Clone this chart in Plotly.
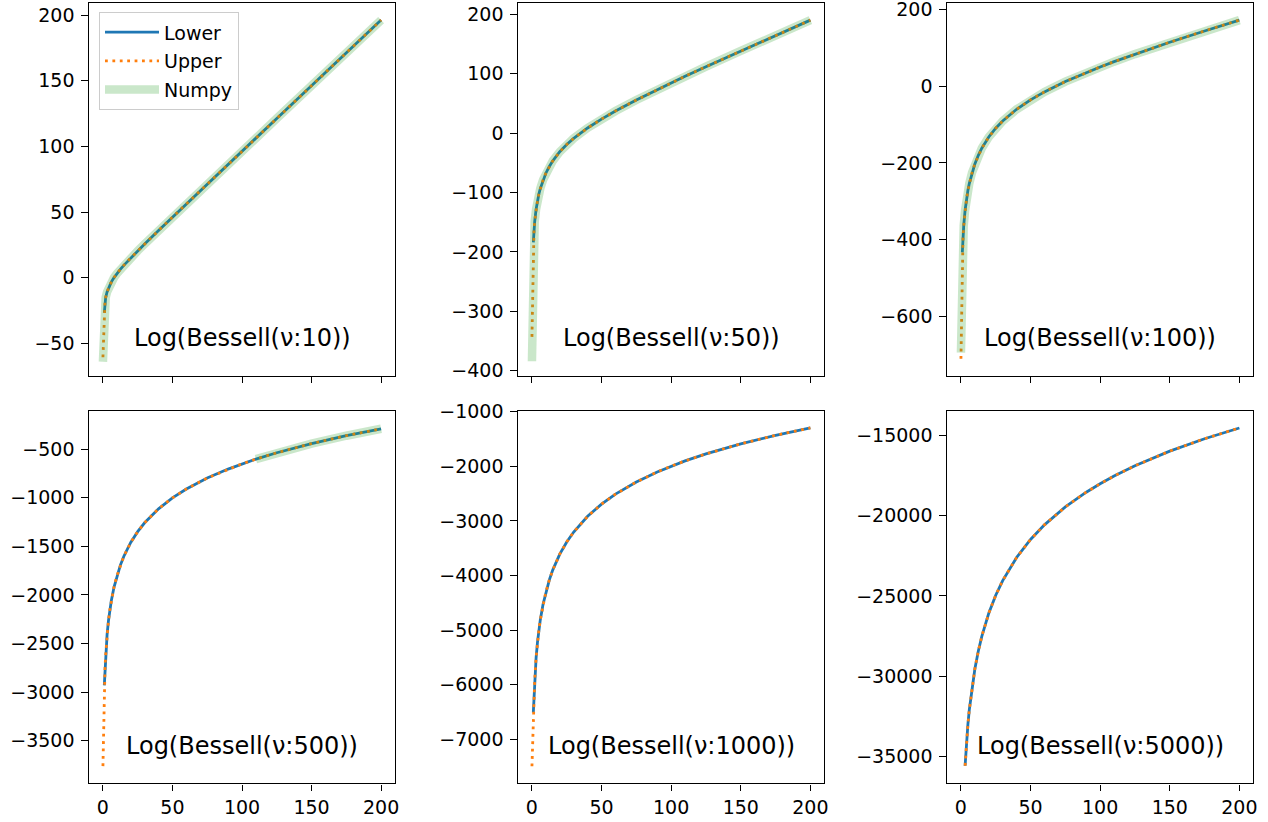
import plotly.graph_objects as go

# ---------------- data ----------------
X = [0.02, 1, 1.5, 2, 3, 4, 5, 6, 8, 10, 12.5, 15, 20, 25, 30, 40, 50, 60,
     75, 90, 100, 110, 125, 150, 175, 200]

NU = [10, 50, 100, 500, 1000, 5000]

# nu = 10
lower_10 = [None, -26.5, -17.93, -15.01, -10.85, -7.81, -5.38, -3.33, 0.14, 3.09, 6.38, 9.41, 15.08,
            20.46, 25.70, 35.98, 46.12, 56.20, 71.25, 86.27, 96.28, 106.28, 121.27, 146.24, 171.21, 196.18]
upper_10 = [-60.6, -22.01, -17.93, -15.01, -10.85, -7.81, -5.38, -3.33, 0.14, 3.09, 6.38, 9.41, 15.08,
            20.46, 25.70, 35.98, 46.12, 56.20, 71.25, 86.27, 96.28, 106.28, 121.27, 146.24, 171.21, 196.18]
numpy_10 = [-64.0, -22.01, -17.93, -15.01, -10.85, -7.81, -5.38, -3.33, 0.14, 3.09, 6.38, 9.41, 15.08,
            20.46, 25.70, 35.98, 46.12, 56.20, 71.25, 86.27, 96.28, 106.28, 121.27, 146.24, 171.21, 196.18]

# nu = 50
lower_50 = [None, -184.0, -162.85, -148.46, -128.17, -113.74, -102.55, -93.37, -78.85, -67.52, -56.09,
            -46.64, -31.42, -19.21, -8.83, 8.65, 23.59, 37.08, 55.71, 73.20, 84.47, 95.51, 111.76,
            138.29, 164.38, 190.20]
upper_50 = [-343.0, -183.1, -162.85, -148.46, -128.17, -113.74, -102.55, -93.37, -78.85, -67.52, -56.09,
            -46.64, -31.42, -19.21, -8.83, 8.65, 23.59, 37.08, 55.71, 73.20, 84.47, 95.51, 111.76,
            138.29, 164.38, 190.20]
numpy_50 = [-384.0, -183.1, -162.85, -148.46, -128.17, -113.74, -102.55, -93.37, -78.85, -67.52, -56.09,
            -46.64, -31.42, -19.21, -8.83, 8.65, 23.59, 37.08, 55.71, 73.20, 84.47, 95.51, 111.76,
            138.29, 164.38, 190.20]

# nu = 100
lower_100 = [None, -433.0, -392.51, -363.73, -323.17, -294.39, -272.05, -253.79, -224.95, -202.55,
             -180.09, -161.69, -132.49, -109.63, -90.73, -60.28, -35.84, -15.06, 11.81, 35.39, 49.89,
             63.68, 83.35, 114.25, 143.57, 171.86]
upper_100 = [-710.0, -433.05, -392.51, -363.73, -323.17, -294.39, -272.05, -253.79, -224.95, -202.55,
             -180.09, -161.69, -132.49, -109.63, -90.73, -60.28, -35.84, -15.06, 11.81, 35.39, 49.89,
             63.68, 83.35, 114.25, 143.57, 171.86]
numpy_100 = [-694.0, -433.05, -392.51, -363.73, -323.17, -294.39, -272.05, -253.79, -224.95, -202.55,
             -180.09, -161.69, -132.49, -109.63, -90.73, -60.28, -35.84, -15.06, 11.81, 35.39, 49.89,
             63.68, 83.35, 114.25, 143.57, 171.86]

# nu = 500
lower_500 = [None, -2930.0, -2755.17, -2611.33, -2408.60, -2264.75, -2153.17, -2062.00, -1918.15,
             -1806.56, -1694.96, -1603.77, -1459.84, -1348.16, -1256.86, -1112.66, -1000.65, -908.94,
             -796.36, -703.97, -650.35, -601.66, -536.01, -441.48, -360.45, -289.17]
upper_500 = [-3762.0, -2957.9, -2755.17, -2611.33, -2408.60, -2264.75, -2153.17, -2062.00, -1918.15,
             -1806.56, -1694.96, -1603.77, -1459.84, -1348.16, -1256.86, -1112.66, -1000.65, -908.94,
             -796.36, -703.97, -650.35, -601.66, -536.01, -441.48, -360.45, -289.17]
numpy_500 = [None, None, None, None, None, None, None, None, None, None, None, None, None, None, None,
             None, None, None, None, None, None, -601.66, -536.01, -441.48, -360.45, -289.17]

# nu = 1000
lower_1000 = [None, -6510.0, -6199.81, -5912.13, -5506.66, -5218.98, -4995.84, -4813.51, -4525.82,
              -4302.66, -4079.51, -3897.17, -3609.44, -3386.24, -3203.86, -2916.00, -2692.63, -2510.03,
              -2286.38, -2103.45, -1997.61, -1901.78, -1773.07, -1589.04, -1432.87, -1297.02]
upper_1000 = [-7494.0, -6605.3, -6199.81, -5912.13, -5506.66, -5218.98, -4995.84, -4813.51, -4525.82,
              -4302.66, -4079.51, -3897.17, -3609.44, -3386.24, -3203.86, -2916.00, -2692.63, -2510.03,
              -2286.38, -2103.45, -1997.61, -1901.78, -1773.07, -1589.04, -1432.87, -1297.02]
numpy_1000 = [None] * 26

# nu = 5000
lower_5000 = [None, None, None, None, -35563.8, -34125.4, -33009.7, -32098.1, -30659.7, -29543.9,
              -28428.2, -27516.6, -26078.2, -24962.5, -24050.8, -22612.4, -21496.6, -20585.0,
              -19469.2, -18557.4, -18030.5, -17553.9, -16914.5, -16002.6, -15231.4, -14563.3]
upper_5000 = [None, None, None, None, -35563.8, -34125.4, -33009.7, -32098.1, -30659.7, -29543.9,
              -28428.2, -27516.6, -26078.2, -24962.5, -24050.8, -22612.4, -21496.6, -20585.0,
              -19469.2, -18557.4, -18030.5, -17553.9, -16914.5, -16002.6, -15231.4, -14563.3]
numpy_5000 = [None] * 26

# tick labels
X_TICKS = [0, 50, 100, 150, 200]
Y_TICKS = [
    [-50, 0, 50, 100, 150, 200],
    [-400, -300, -200, -100, 0, 100, 200],
    [-600, -400, -200, 0, 200],
    [-3500, -3000, -2500, -2000, -1500, -1000, -500],
    [-7000, -6000, -5000, -4000, -3000, -2000, -1000],
    [-35000, -30000, -25000, -20000, -15000],
]

SERIES = [
    (lower_10, upper_10, numpy_10),
    (lower_50, upper_50, numpy_50),
    (lower_100, upper_100, numpy_100),
    (lower_500, upper_500, numpy_500),
    (lower_1000, upper_1000, numpy_1000),
    (lower_5000, upper_5000, numpy_5000),
]

# ---------------- layout geometry ----------------
W, H = 1268, 822
COLS = [(89, 395), (518, 824.3), (947, 1253.3)]
ROWS = [(2.7, 375.7), (411, 783.3)]
Y_RANGES = [(-74.6, 209.4), (-408.4, 219.5), (-754, 217.2),
            (-3939, -106), (-7806, -987), (-36654, -13508)]
X_RANGE = (-10, 210)

FONT = "DejaVu Sans"
TICK_SIZE = 19


def fmt(v):
    s = f"{abs(v):d}"
    return ("\u2212" + s) if v < 0 else s


fig = go.Figure()
layout = {}
annotations = []

for i, (nu, (lo, up, npy)) in enumerate(zip(NU, SERIES)):
    r, c = divmod(i, 3)
    sfx = "" if i == 0 else str(i + 1)
    xa, ya = "x" + sfx, "y" + sfx
    first = i == 0
    fig.add_trace(go.Scatter(x=X, y=lo, mode="lines", name="Lower", xaxis=xa, yaxis=ya,
                             line=dict(color="#1f77b4", width=2.8),
                             showlegend=first, legendgroup="lower", hoverinfo="skip"))
    fig.add_trace(go.Scatter(x=X, y=up, mode="lines", name="Upper", xaxis=xa, yaxis=ya,
                             line=dict(color="#ff7f0e", width=2.8, dash="2.8px,4.6px"),
                             showlegend=first, legendgroup="upper", hoverinfo="skip"))
    fig.add_trace(go.Scatter(x=X, y=npy, mode="lines", name="Numpy", xaxis=xa, yaxis=ya,
                             line=dict(color="rgba(44,160,44,0.25)", width=8.5),
                             showlegend=first, legendgroup="numpy", hoverinfo="skip"))

    x0, x1 = COLS[c]
    y0, y1 = ROWS[r]
    common = dict(showline=True, mirror=True, linecolor="black", linewidth=1.4,
                  ticks="outside", ticklen=6.5, tickwidth=1.4, tickcolor="black",
                  showgrid=False, zeroline=False, automargin=False,
                  ticklabeloverflow="allow",
                  tickfont=dict(family=FONT, size=TICK_SIZE, color="black"))
    layout["xaxis" + sfx] = dict(
        domain=[x0 / W, x1 / W], anchor=ya, range=list(X_RANGE),
        tickmode="array", tickvals=X_TICKS, ticktext=[fmt(v) for v in X_TICKS],
        showticklabels=(r == 1), ticklabelstandoff=0, **common)
    layout["yaxis" + sfx] = dict(
        domain=[1 - y1 / H, 1 - y0 / H], anchor=xa, range=list(Y_RANGES[i]),
        tickmode="array", tickvals=Y_TICKS[i], ticktext=[fmt(v) for v in Y_TICKS[i]],
        ticklabelstandoff=3, **common)
    annotations.append(dict(
        text=f"Log(Bessell(\u03bd:{nu}))", xref=xa + " domain", yref=ya + " domain",
        x=0.5, y=0.1, xanchor="center", yanchor="middle", showarrow=False,
        font=dict(family=FONT, size=24, color="black")))

fig.update_layout(
    width=W, height=H,
    margin=dict(l=0, r=0, t=0, b=0, autoexpand=False),
    paper_bgcolor="white", plot_bgcolor="white",
    font=dict(family=FONT, size=TICK_SIZE, color="black"),
    annotations=annotations,
    showlegend=True,
    legend=dict(x=99 / W, y=1 - 12.3 / H, xanchor="left", yanchor="top",
                bgcolor="rgba(255,255,255,0.8)", bordercolor="#cccccc", borderwidth=1,
                font=dict(family=FONT, size=19, color="black"),
                tracegroupgap=1, itemwidth=54),
    **layout,
)

# remove the default 8px page margin so the figure sits at the window origin
fig.write_html("out.html",
               config={"displayModeBar": False},
               post_script="document.body.style.margin='0';document.body.style.overflow='hidden';")
